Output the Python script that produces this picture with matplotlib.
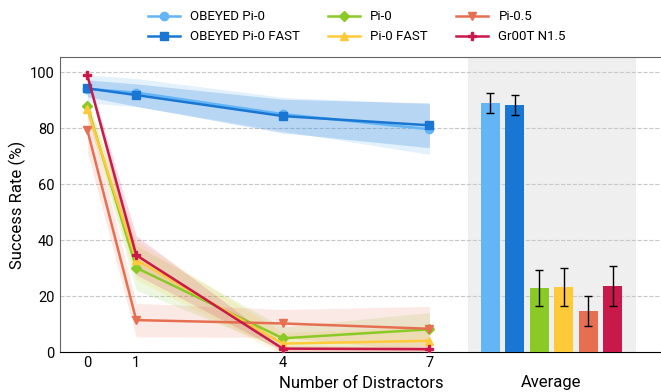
import matplotlib
matplotlib.use("Agg")
import matplotlib.pyplot as plt
import numpy as np

plt.rcParams['font.family'] = ['Roboto', 'DejaVu Sans']

distractors = [0, 1, 4, 7]
series_names = ["OBEYED Pi-0", "OBEYED Pi-0 FAST", "Pi-0", "Pi-0 FAST", "Pi-0.5", "Gr00T N1.5"]
obeyed_pi0 = [94.0, 92.7, 85.0, 79.6]
obeyed_pi0_fast = [94.2, 91.8, 84.3, 81.0]
pi0 = [87.8, 30.1, 4.9, 8.1]
pi0_fast = [86.8, 32.9, 3.0, 4.0]
pi05 = [79.3, 11.4, 10.2, 8.3]
groot = [98.8, 34.6, 1.2, 1.0]

obeyed_pi0_std = [5, 5, 6, 9]
obeyed_pi0_fast_std = [3, 4, 6, 8]
pi0_std = [3, 8, 4, 6]
pi0_fast_std = [3, 7, 4, 5]
pi05_std = [8, 6, 5, 8]
groot_std = [1, 7, 1, 1]

avg_values = [88.9, 88.2, 22.9, 23.2, 14.6, 23.6]
avg_err = [3.6, 3.5, 6.4, 6.7, 5.4, 7.3]

colors = ["#64B5F6", "#1976D2", "#8AC926", "#FFCA3A", "#E76F51", "#C9184A"]
markers = ["o", "s", "D", "^", "v", "P"]
band_alpha = [0.18, 0.22, 0.15, 0.15, 0.15, 0.15]

series = [obeyed_pi0, obeyed_pi0_fast, pi0, pi0_fast, pi05, groot]
stds = [obeyed_pi0_std, obeyed_pi0_fast_std, pi0_std, pi0_fast_std, pi05_std, groot_std]

fig = plt.figure(figsize=(6.61, 3.92), dpi=100)
ax = fig.add_axes([60/661, 40/392, 601/661, 295/392])

ax.axvspan(7.78, 11.22, color="#EFEFEF", zorder=0, lw=0)

x = np.array(distractors)
handles = []
for i, (y, s) in enumerate(zip(series, stds)):
    y = np.array(y); s = np.array(s)
    ax.fill_between(x, y - s, y + s, color=colors[i], alpha=band_alpha[i], lw=0, zorder=1)
    msize = 6 if markers[i] != "D" else 5
    h, = ax.plot(x, y, color=colors[i], marker=markers[i], lw=1.8, ms=msize, zorder=3,
                 label=series_names[i])
    handles.append(h)

bar_x = 8.25 + 0.5 * np.arange(len(avg_values))
ax.bar(bar_x, avg_values, width=0.39, color=colors, yerr=avg_err, capsize=3,
       error_kw=dict(ecolor="black", elinewidth=1, capthick=1), zorder=3)

ax.set_xlim(-0.56, 11.74)
ax.set_ylim(0, 105.4)
ax.set_xticks(distractors)
ax.set_xticklabels([str(d) for d in distractors])
ax.set_yticks([0, 20, 40, 60, 80, 100])
ax.yaxis.grid(True, linestyle="--", color="#C8C8C8", lw=0.8)
ax.set_axisbelow(True)
ax.tick_params(axis="both", labelsize=10.5, length=0)
ax.tick_params(axis="y", pad=4)
ax.tick_params(axis="x", pad=3)
ax.set_ylabel("Success Rate (%)", fontsize=12)
ax.yaxis.set_label_coords(-(60 - 26) / 601, 0.5)

for sp in ["left", "top"]:
    ax.spines[sp].set_color("#666666")
ax.spines["right"].set_visible(False)
ax.spines["bottom"].set_color("black")

trans = ax.get_xaxis_transform()
ax.text(5.6, -31 / 295, "Number of Distractors", transform=trans, ha="center", va="center", fontsize=12)
ax.text(9.5, -31 / 295, "Average", transform=trans, ha="center", va="center", fontsize=12)

fig.legend(handles=handles, labels=series_names, loc="upper center",
           bbox_to_anchor=(357/661, 1 - 5/392), borderaxespad=0, ncol=3,
           frameon=False, fontsize=9.5, handlelength=2.42, columnspacing=2.16, handletextpad=0.76,
           labelspacing=0.52)

fig.savefig("out.png", dpi=100)
